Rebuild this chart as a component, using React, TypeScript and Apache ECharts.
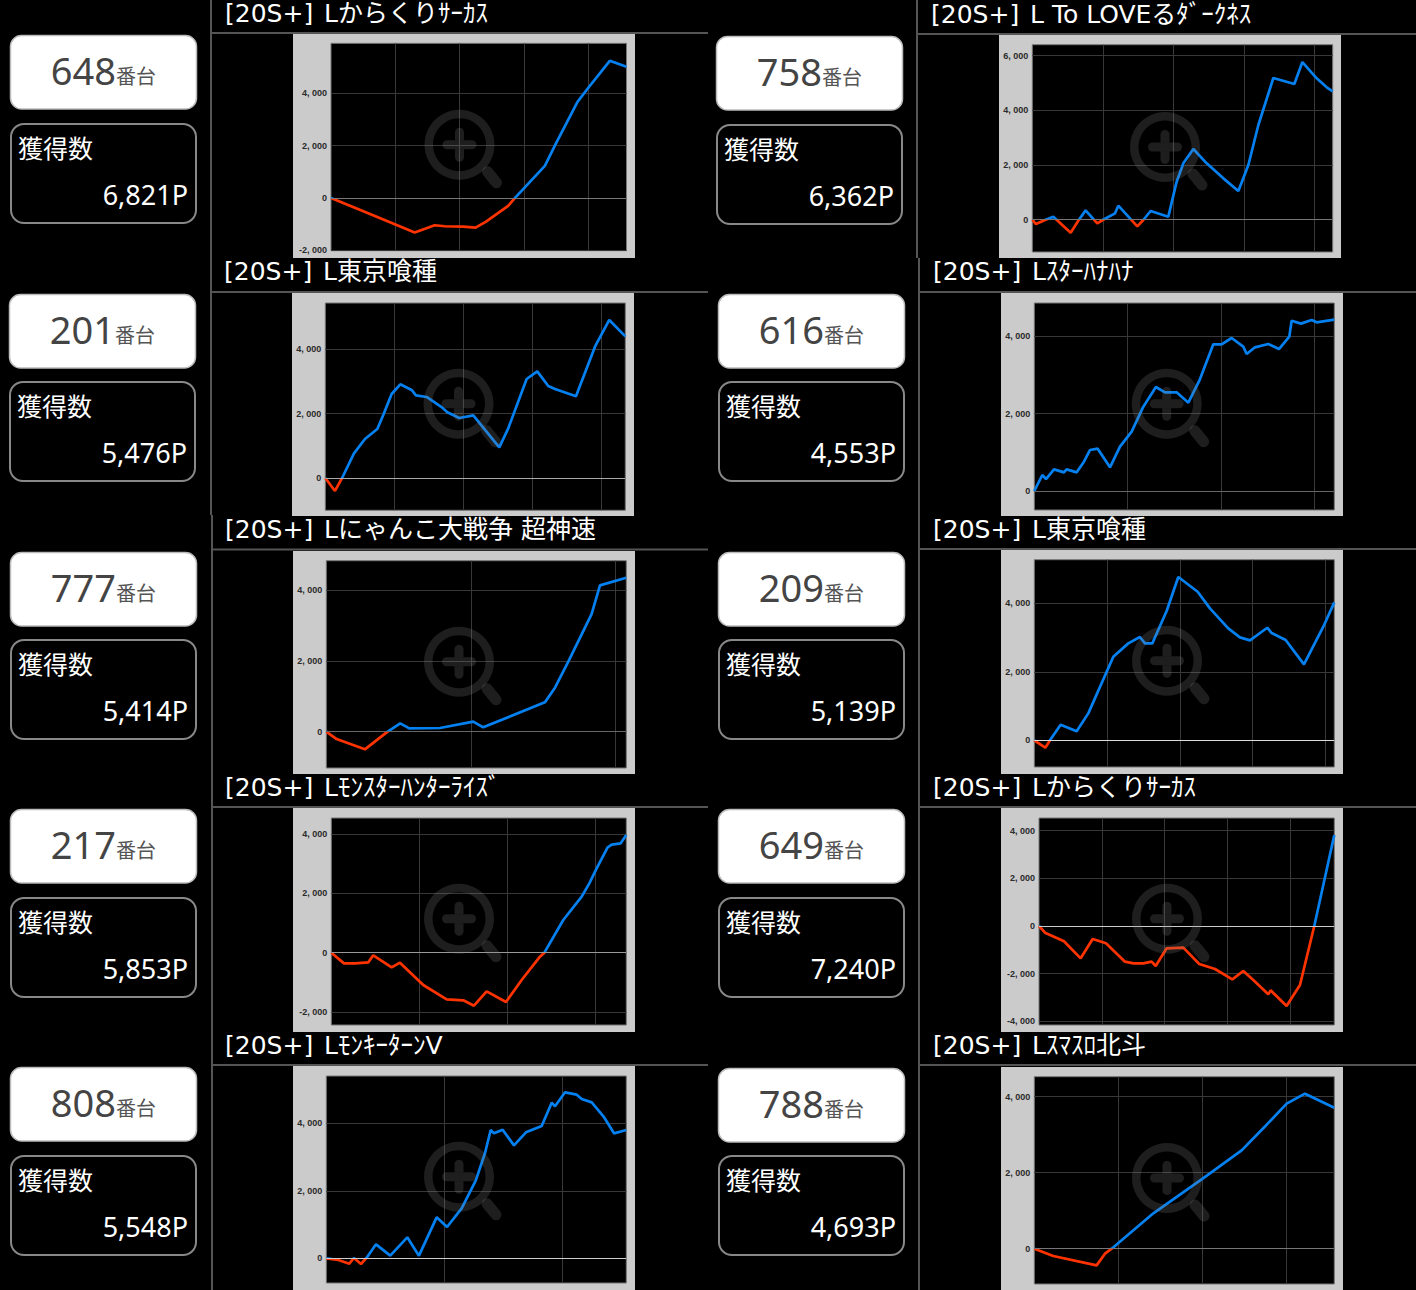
import React, { useEffect, useRef } from "react";
import * as echarts from "echarts";

const machineNumbers = ["648", "758", "201", "616", "777", "209", "217", "649", "808", "788"];
const earnedPoints = ["6,821P", "6,362P", "5,476P", "4,553P", "5,414P", "5,139P", "5,853P", "7,240P", "5,548P", "4,693P"];
const titlePrefix = "[20S+]";
const titleNames = [
  "Lからくりｻｰｶｽ",
  "L To LOVEるﾀﾞｰｸﾈｽ",
  "L東京喰種",
  "Lｽﾀｰﾊﾅﾊﾅ",
  "Lにゃんこ大戦争 超神速",
  "L東京喰種",
  "Lﾓﾝｽﾀｰﾊﾝﾀｰﾗｲｽﾞ",
  "Lからくりｻｰｶｽ",
  "LﾓﾝｷｰﾀｰﾝV",
  "Lｽﾏｽﾛ北斗",
];

const x648 = [0, 248, 692, 1302, 1613, 1771, 2057, 2248, 2406, 2756, 2863, 3327, 3498, 3835, 3994, 4337, 4597];
const y648 = [0, -255, -702, -1327, -1047, -1085, -1098, -1136, -919, -306, 0, 1225, 2080, 3676, 4186, 5246, 5016];

const x758 = [0, 52, 180, 298, 544, 652, 756, 922, 998, 1173, 1220, 1385, 1489, 1574, 1678, 1929, 2047, 2142, 2284, 2473, 2709, 2922, 3064, 3206, 3418, 3716, 3830, 4033, 4175, 4260];
const y758 = [0, -159, -12, 110, -476, -37, 341, -134, -12, 232, 512, 49, -244, -12, 317, 110, 1390, 2061, 2585, 2061, 1512, 1049, 2000, 3463, 5183, 4963, 5768, 5171, 4841, 4695];

const x201 = [0, 140, 236, 415, 574, 753, 839, 960, 1085, 1249, 1312, 1467, 1693, 1766, 1939, 2142, 2518, 2648, 2914, 3068, 3227, 3324, 3628, 3903, 4110, 4342];
const y201 = [0, -404, -31, 767, 1212, 1523, 1959, 2611, 2912, 2736, 2570, 2518, 2187, 2042, 1865, 1948, 953, 1544, 3078, 3316, 2860, 2767, 2539, 4083, 4912, 4404];

const x616 = [0, 86, 125, 211, 318, 346, 454, 532, 596, 679, 811, 918, 1043, 1168, 1303, 1400, 1525, 1650, 1768, 1918, 2007, 2114, 2239, 2275, 2364, 2507, 2621, 2732, 2757, 2857, 2971, 3025, 3214];
const y616 = [0, 414, 310, 560, 483, 560, 483, 759, 1060, 1095, 612, 1147, 1535, 2181, 2690, 2552, 2552, 2285, 2854, 3793, 3793, 3957, 3733, 3543, 3716, 3802, 3672, 3991, 4405, 4328, 4423, 4362, 4431];

const x777 = [0, 71, 267, 417, 511, 574, 786, 1016, 1085, 1511, 1581, 1673, 1834, 1892, 2074];
const y777 = [0, -208, -500, -19, 236, 94, 104, 283, 123, 830, 1245, 1981, 3330, 4142, 4358];

const x209 = [0, 151, 215, 362, 582, 742, 1086, 1292, 1452, 1521, 1622, 1819, 1979, 2245, 2414, 2666, 2826, 2964, 3202, 3262, 3454, 3706, 3972, 4123];
const y209 = [0, -214, 0, 457, 263, 788, 2443, 2832, 3017, 2832, 2832, 3776, 4769, 4340, 3854, 3270, 3007, 2920, 3289, 3134, 2929, 2219, 3319, 4029];

const x217 = [0, 144, 269, 420, 477, 686, 780, 1045, 1311, 1500, 1621, 1765, 1985, 2163, 2371, 2421, 2636, 2845, 2932, 3015, 3140, 3186, 3288, 3352];
const y217 = [0, -361, -361, -327, -90, -496, -338, -1093, -1578, -1611, -1792, -1307, -1668, -924, -135, 0, 1104, 1893, 2344, 2851, 3561, 3651, 3696, 3978];

const x649 = [0, 96, 398, 664, 855, 1067, 1370, 1503, 1662, 1795, 1859, 2034, 2299, 2554, 2804, 3080, 3255, 3414, 3653, 3690, 3945, 4158, 4386, 4705];
const y649 = [0, -280, -643, -1357, -545, -727, -1497, -1566, -1566, -1497, -1678, -937, -909, -1594, -1804, -2238, -1888, -2266, -2867, -2699, -3357, -2476, 0, 3818];

const x808 = [0, 102, 195, 234, 294, 342, 421, 542, 686, 785, 935, 1023, 1147, 1266, 1345, 1393, 1421, 1494, 1590, 1692, 1825, 1910, 1938, 2023, 2122, 2164, 2249, 2348, 2438, 2542];
const y808 = [0, -49, -158, 10, -168, 20, 415, 79, 622, 79, 1215, 928, 1482, 2301, 3121, 3803, 3704, 3812, 3348, 3733, 3921, 4612, 4504, 4919, 4850, 4721, 4622, 4208, 3704, 3803];

const x788 = [0, 226, 742, 841, 921, 1417, 2004, 2468, 2766, 3004, 3222, 3571];
const y788 = [0, -193, -439, -132, 0, 930, 1842, 2588, 3263, 3816, 4079, 3711];

const xSeries = [x648, x758, x201, x616, x777, x209, x217, x649, x808, x788];
const ySeries = [y648, y758, y201, y616, y777, y209, y217, y649, y808, y788];

// Y tick values of each small chart
const ticksA = [0, 2000, 4000];
const ticks6k = [0, 2000, 4000, 6000];
const ticksNeg2k = [-2000, 0, 2000, 4000];
const ticksNeg4k = [-4000, -2000, 0, 2000, 4000];
const yTicks = [ticksNeg2k, ticks6k, ticksA, ticksA, ticksA, ticksA, ticksNeg2k, ticksNeg4k, ticksA, ticksA];

// Axis extents of each small chart: [yMin, yMax, xMax]
const axisExtents = [
  [-2020, 5916, 4597],
  [-1183, 6402, 4260],
  [-1005, 5440, 4342],
  [-491, 4862, 3214],
  [-1028, 4840, 2074],
  [-778, 5275, 4123],
  [-2445, 4552, 3352],
  [-4154, 4531, 4705],
  [-731, 5403, 2542],
  [-930, 4526, 3571],
];

const RED = "#ff3300";
const BLUE = "#0580f0";
const FONT = '"DejaVu Sans","Noto Sans CJK JP",sans-serif';
const NUM_FONT = '"Noto Sans","Noto Sans CJK JP",sans-serif';
const CJK_FONT = '"Noto Sans CJK JP",sans-serif';

// Page layout of each panel, in reading order
const layouts = [
  { titleX: 225, titleY: 13, sepX: 211, sepW: 497, sepY: 33, card: [10, 35, 123], panel: [293, 34, 342, 224], plot: [331, 43.3, 295.5, 207.4], icon: [459.5, 144.7], zero: "#777" },
  { titleX: 931, titleY: 14, sepX: 917, sepW: 499, sepY: 34, card: [716, 36, 124], panel: [999, 35, 342, 223], plot: [1032.3, 44.7, 300.4, 207.3], icon: [1165, 147], zero: "#777" },
  { titleX: 224, titleY: 271, sepX: 211, sepW: 497, sepY: 292, card: [9, 294, 381], panel: [292, 293, 342, 223], plot: [325.3, 303, 300, 207.3], icon: [458.5, 403.7], zero: "#aaa" },
  { titleX: 933, titleY: 271, sepX: 919, sepW: 497, sepY: 292, card: [718, 294, 381], panel: [1001, 293, 342, 223], plot: [1034.3, 303, 300, 207], icon: [1166.7, 403.7], zero: "#666" },
  { titleX: 225, titleY: 529, sepX: 211, sepW: 497, sepY: 549.5, card: [10, 552, 639], panel: [293, 551, 342, 223], plot: [326.3, 560.7, 300, 207.3], icon: [459, 661.7], zero: "#666" },
  { titleX: 933, titleY: 529, sepX: 919, sepW: 497, sepY: 549, card: [718, 552, 639], panel: [1001, 550, 342, 224], plot: [1034.3, 559.7, 300, 207.3], icon: [1167, 660.7], zero: "#ddd" },
  { titleX: 225, titleY: 787, sepX: 211, sepW: 497, sepY: 807, card: [10, 809, 897], panel: [293, 808, 342, 224], plot: [331.3, 818, 295, 207], icon: [459, 918.7], zero: "#999" },
  { titleX: 933, titleY: 787, sepX: 919, sepW: 497, sepY: 807, card: [718, 809, 897], panel: [1001, 808, 342, 224], plot: [1039, 818, 295.3, 207], icon: [1167, 918.7], zero: "#ccc" },
  { titleX: 225, titleY: 1045, sepX: 211, sepW: 497, sepY: 1065, card: [10, 1067, 1155], panel: [293, 1066, 342, 224], plot: [326.3, 1076, 300, 207], icon: [459, 1176.7], zero: "#ccc" },
  { titleX: 933, titleY: 1045, sepX: 919, sepW: 497, sepY: 1065, card: [718, 1068, 1155], panel: [1001, 1067, 342, 223], plot: [1034.3, 1076.7, 300, 207.3], icon: [1167, 1178], zero: "#777" },
];

const rule = (x1: number, y1: number, x2: number, y2: number) => ({
  type: "line",
  z: -5,
  shape: { x1, y1, x2, y2 },
  style: { stroke: "#555", lineWidth: 2 },
});

function panelGraphics(i: number) {
  const l = layouts[i];
  const [cx, whiteY, boxY] = l.card;
  const [ix, iy] = l.icon;
  const [px, py, pw, ph] = l.panel;
  const overlay = { fill: "#888", opacity: 0.22 };
  return [
    rule(l.sepX, l.sepY, l.sepX + l.sepW, l.sepY),
    { type: "rect", z: -4, shape: { x: px, y: py, width: pw, height: ph }, style: { fill: "#cbcbcb" } },
    { type: "text", z: 5, x: l.titleX, y: l.titleY, style: { text: titlePrefix, fill: "#fff", font: `25px ${FONT}`, textAlign: "left", textVerticalAlign: "middle" } },
    { type: "text", z: 5, x: l.titleX + 99, y: l.titleY, style: { text: titleNames[i], fill: "#fff", font: `25px ${FONT}`, textAlign: "left", textVerticalAlign: "middle" } },
    { type: "rect", z: 1, shape: { x: cx + 0.5, y: whiteY + 0.5, width: 186, height: 73.5, r: 11 }, style: { fill: "#fff", stroke: "#bbb", lineWidth: 1.5 } },
    { type: "text", z: 5, x: cx + 106, y: whiteY + 35, style: { text: machineNumbers[i], fill: "#444", font: `38px ${NUM_FONT}`, textAlign: "right", textVerticalAlign: "middle" } },
    { type: "text", z: 5, x: cx + 106, y: whiteY + 40, style: { text: "番台", fill: "#555", font: `20px ${CJK_FONT}`, textAlign: "left", textVerticalAlign: "middle" } },
    { type: "rect", z: 1, shape: { x: cx + 1, y: boxY + 1, width: 185, height: 99, r: 13 }, style: { fill: "#000", stroke: "#888", lineWidth: 2 } },
    { type: "text", z: 5, x: cx + 8, y: boxY + 24, style: { text: "獲得数", fill: "#fff", font: `25px ${CJK_FONT}`, textAlign: "left", textVerticalAlign: "middle" } },
    { type: "text", z: 5, x: cx + 178, y: boxY + 71, style: { text: earnedPoints[i], fill: "#fff", font: `27px ${NUM_FONT}`, textAlign: "right", textVerticalAlign: "middle" } },
    { type: "ring", z: 100, silent: true, shape: { cx: ix, cy: iy, r: 35, r0: 26.5 }, style: overlay },
    { type: "rect", z: 100, silent: true, shape: { x: ix - 17, y: iy - 4.5, width: 34, height: 9, r: 4.5 }, style: overlay },
    { type: "rect", z: 100, silent: true, shape: { x: ix - 4.5, y: iy - 17, width: 9, height: 12.5, r: [4.5, 4.5, 0, 0] }, style: overlay },
    { type: "rect", z: 100, silent: true, shape: { x: ix - 4.5, y: iy + 4.5, width: 9, height: 12.5, r: [0, 0, 4.5, 4.5] }, style: overlay },
    { type: "line", z: 100, silent: true, shape: { x1: ix + 28, y1: iy + 27, x2: ix + 37, y2: iy + 38 }, style: { stroke: "#888", opacity: 0.22, lineWidth: 11, lineCap: "round" } },
  ];
}

function buildOption() {
  const idx = layouts.map((_, i) => i);
  return {
    animation: false,
    backgroundColor: "#000",
    grid: layouts.map((l) => ({
      left: l.plot[0],
      top: l.plot[1],
      width: l.plot[2],
      height: l.plot[3],
      show: true,
      backgroundColor: "#000",
      borderColor: "#777",
      borderWidth: 1,
      containLabel: false,
    })),
    xAxis: idx.map((i) => ({
      type: "value",
      gridIndex: i,
      min: 0,
      max: axisExtents[i][2],
      interval: 1000,
      axisLine: { show: false },
      axisTick: { show: false },
      axisLabel: { show: false },
      splitLine: { show: true, showMinLine: false, showMaxLine: false, lineStyle: { color: "#383838", width: 1 } },
    })),
    yAxis: idx.map((i) => ({
      type: "value",
      gridIndex: i,
      min: axisExtents[i][0],
      max: axisExtents[i][1],
      axisLine: { show: false },
      axisTick: { show: false, customValues: yTicks[i] },
      axisLabel: {
        customValues: yTicks[i],
        margin: 4,
        padding: [2, 0, 0, 0],
        color: "#2a2a2a",
        fontFamily: '"Liberation Sans",sans-serif',
        fontWeight: "bold",
        fontSize: 9,
        formatter: (v: number) => v.toLocaleString("en-US").replace(",", ", "),
      },
      splitLine: { show: true, lineStyle: { color: "#383838", width: 1 } },
    })),
    visualMap: idx.map((i) => ({
      type: "piecewise",
      show: false,
      seriesIndex: i,
      dimension: 1,
      pieces: [
        { min: -100000, max: 0, color: RED },
        { min: 0, max: 100000, color: BLUE },
      ],
    })),
    series: idx.map((i) => ({
      type: "line",
      xAxisIndex: i,
      yAxisIndex: i,
      symbol: "none",
      silent: true,
      lineStyle: { width: 2.7 },
      data: xSeries[i].map((x, k) => [x, ySeries[i][k]]),
      markLine: {
        silent: true,
        symbol: "none",
        label: { show: false },
        lineStyle: { color: layouts[i].zero, width: 1, type: "solid" },
        data: [{ yAxis: 0 }],
      },
    })),
    graphic: {
      elements: [
        rule(211, 0, 211, 515),
        rule(212, 515, 212, 1290),
        rule(917, 0, 917, 258),
        rule(919, 258, 919, 1290),
        ...idx.flatMap(panelGraphics),
      ],
    },
  };
}

export default function App() {
  const ref = useRef<HTMLDivElement>(null);
  useEffect(() => {
    const chart = echarts.init(ref.current as HTMLDivElement, undefined, { renderer: "svg" });
    chart.setOption(buildOption() as any);
    return () => chart.dispose();
  }, []);
  return (
    <div
      ref={ref}
      style={{ position: "absolute", left: 0, top: 0, width: 1416, height: 1290, background: "#000" }}
    />
  );
}
